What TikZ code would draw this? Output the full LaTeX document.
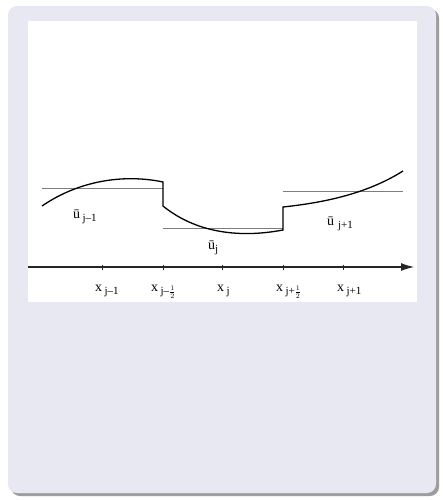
\documentclass[tikz,border=0pt]{standalone}
\usepackage{fontspec}
\setmainfont{Liberation Serif}
\usetikzlibrary{arrows.meta, positioning, shadows}
\definecolor{FrameBg}{HTML}{E8E8F2}
\definecolor{LevelGray}{RGB}{125,125,125}
\newcommand{\lowsub}[1]{\raisebox{-0.6ex}{\fontsize{11}{12}\selectfont #1}}
\newcommand{\halfsub}{{\fontsize{14}{14}\selectfont$\scriptstyle\frac{1}{2}$}}

\begin{document}
\begin{tikzpicture}[
    x=1pt, y=-1pt,
    >={Latex[length=13pt, width=8pt]},
    every node/.style={inner sep=0pt, font=\fontsize{14}{16}\selectfont},
    frame/.style={fill=FrameBg, rounded corners=9pt,
                  drop shadow={shadow xshift=3pt, shadow yshift=-3pt,
                               opacity=0.55, fill=black!70}},
    panel/.style={fill=white},
    axis/.style={->, line width=1.1pt, black!85},
    tick/.style={line width=0.8pt, black!85},
    level/.style={line width=0.8pt, LevelGray},
    recon/.style={line width=1.3pt, black},
    xlabel/.style={anchor=base west},
    ulabel/.style={anchor=base west}
]

% --- Frame --------------------------------------------------------------
\useasboundingbox (0,0) rectangle (442,500);
\path[frame] (8,6) rectangle (436,493);
\path[panel] (28,21) rectangle (417,302);

% --- Axis ---------------------------------------------------------------
\coordinate (axL) at (28,267);
\coordinate (axR) at (414,267);
\draw[axis] (axL) -- (axR);

\foreach \n/\x/\dx/\lab in {a/102/-7/{x\,\lowsub{j–1}},
                            b/163/-12/{x\,\lowsub{j–\halfsub}},
                            c/222/-5/{x\,\lowsub{j}},
                            d/283/-7/{x\,\lowsub{j+\halfsub}},
                            e/343/-6/{x\,\lowsub{j+1}}}{
  \coordinate (t\n) at (\x,267);
  \draw[tick] ([yshift=2.5pt]t\n) -- ([yshift=-3pt]t\n);
  \node[xlabel] (lab\n) at ([xshift=\dx pt, yshift=-24pt]t\n) {\lab};
}

% --- Cell averages ------------------------------------------------------
\draw[level] (42,188)  -- (163,188);
\draw[level] (163,228) -- (283,228);
\draw[level] (283,191) -- (403,191);

% --- Reconstruction -----------------------------------------------------
\draw[recon] (42,206) .. controls (80,180) and (125,174) .. (163,182)
             -- (163,206) .. controls (190,228) and (230,240) .. (283,230)
             -- (283,207) .. controls (320,203) and (365,195) .. (403,171);

% --- Labels -------------------------------------------------------------
\node[ulabel] (um) at (73,218)  {ū\,\lowsub{j–1}};
\node[ulabel] (u0) at (208,249) {ū\lowsub{j}};
\node[ulabel] (up) at (327,225) {ū\;\lowsub{j+1}};

\end{tikzpicture}
\end{document}
